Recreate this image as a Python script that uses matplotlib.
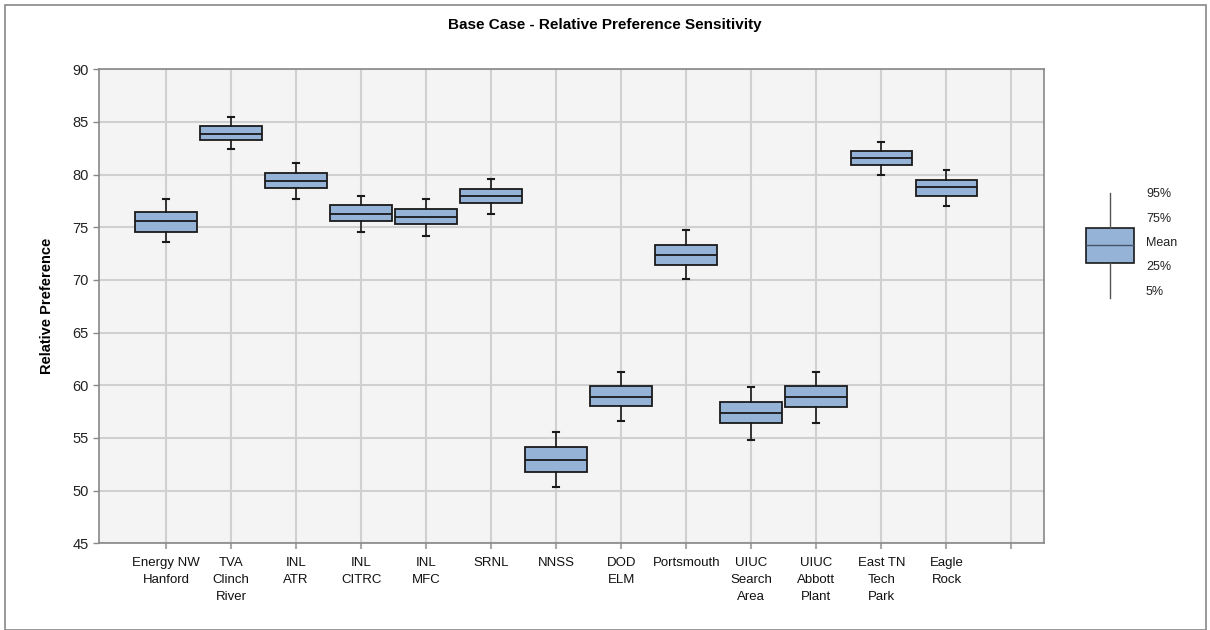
import matplotlib
matplotlib.use("Agg")
from matplotlib import pyplot as plt
from matplotlib.patches import Rectangle

# sites and their preference spread (5%, 25%, mean, 75%, 95%)
sites = ["Energy NW\nHanford", "TVA\nClinch\nRiver", "INL\nATR", "INL\nCITRC", "INL\nMFC",
         "SRNL", "NNSS", "DOD\nELM", "Portsmouth", "UIUC\nSearch\nArea",
         "UIUC\nAbbott\nPlant", "East TN\nTech\nPark", "Eagle\nRock"]
p5 = [73.6, 82.4, 77.7, 74.6, 74.2, 76.3, 50.3, 56.6, 70.1, 54.8, 56.4, 80.0, 77.0]
p25 = [74.6, 83.3, 78.7, 75.6, 75.3, 77.3, 51.8, 58.0, 71.4, 56.4, 57.9, 80.9, 78.0]
mean = [75.6, 83.9, 79.4, 76.3, 76.0, 78.0, 52.9, 58.9, 72.4, 57.4, 58.9, 81.6, 78.8]
p75 = [76.5, 84.6, 80.2, 77.1, 76.7, 78.6, 54.1, 59.9, 73.3, 58.4, 59.9, 82.2, 79.5]
p95 = [77.7, 85.5, 81.1, 78.0, 77.7, 79.6, 55.6, 61.3, 74.7, 59.8, 61.3, 83.1, 80.4]
legend_labels = ["95%", "75%", "Mean", "25%", "5%"]

box_fill = "#95b3d7"
edge = "#1a1a1a"

plt.rcParams['font.family'] = ['Liberation Sans', 'DejaVu Sans']

fig = plt.figure(figsize=(12.1, 6.3), dpi=100)
W, H = 1210.0, 630.0
ax = fig.add_axes([99/W, 1-543.3/H, (1044-99)/W, (543.3-69.3)/H])
ax.set_facecolor("#f4f4f4")

stats = []
for i in range(len(sites)):
    stats.append({"whislo": p5[i], "q1": p25[i], "med": mean[i], "q3": p75[i], "whishi": p95[i]})
pos = list(range(1, len(sites)+1))
ax.bxp(stats, positions=pos, widths=0.95, showfliers=False, patch_artist=True,
       boxprops=dict(facecolor=box_fill, edgecolor=edge, linewidth=1.3),
       medianprops=dict(color=edge, linewidth=1.3),
       whiskerprops=dict(color=edge, linewidth=1.2),
       capprops=dict(color=edge, linewidth=1.5), capwidths=0.09, zorder=3)

ax.set_xlim(-0.03, 14.5)
ax.set_ylim(45, 90)
ax.set_yticks(range(45, 91, 5))
ax.set_xticks(pos + [14])
ax.set_xticklabels(sites + [""], fontsize=9.5, linespacing=1.55)
ax.tick_params(axis="y", labelsize=10.5, colors="#888888", labelcolor="#222222", length=4, width=1)
ax.tick_params(axis="x", colors="#aaaaaa", labelcolor="#111111", length=4, width=1.5, pad=6)
for lab in ax.get_xticklabels():
    lab.set_verticalalignment("top")
ax.grid(True, color="#d0d0d0", linewidth=1.5, zorder=0)
ax.set_axisbelow(True)
for s in ax.spines.values():
    s.set_color("#888888")
    s.set_linewidth(1.2)

ax.set_ylabel("Relative Preference", fontsize=10.5, fontweight="bold", labelpad=13)
fig.suptitle("Base Case - Relative Preference Sensitivity", fontsize=11, fontweight="bold",
             x=0.5, y=1-25/H, va="center")

# key on the right
lax = fig.add_axes([1070/W, 1-305/H, 130/W, (305-185)/H])
lax.set_xlim(0, 130)
lax.set_ylim(305, 185)
lax.axis("off")
lax.bxp([{"whislo": 297.7, "q1": 263.3, "med": 245.3, "q3": 227.7, "whishi": 193.3}],
        positions=[40], widths=48, showfliers=False, showcaps=False, patch_artist=True,
        boxprops=dict(facecolor=box_fill, edgecolor=edge, linewidth=1.2),
        medianprops=dict(color="#44546a", linewidth=1.0),
        whiskerprops=dict(color="#555555", linewidth=1.0))
for k, lab in enumerate(legend_labels):
    lax.text(76, 194 + 24.5*k, lab, fontsize=9, va="center", ha="left", color="#222222")

# outer frame
fig.patches.append(Rectangle((5/W, 0), (1206-5)/W, 1-5/H, transform=fig.transFigure,
                             fill=False, edgecolor="#888888", linewidth=1.2))

plt.savefig("out.png", dpi=100)
